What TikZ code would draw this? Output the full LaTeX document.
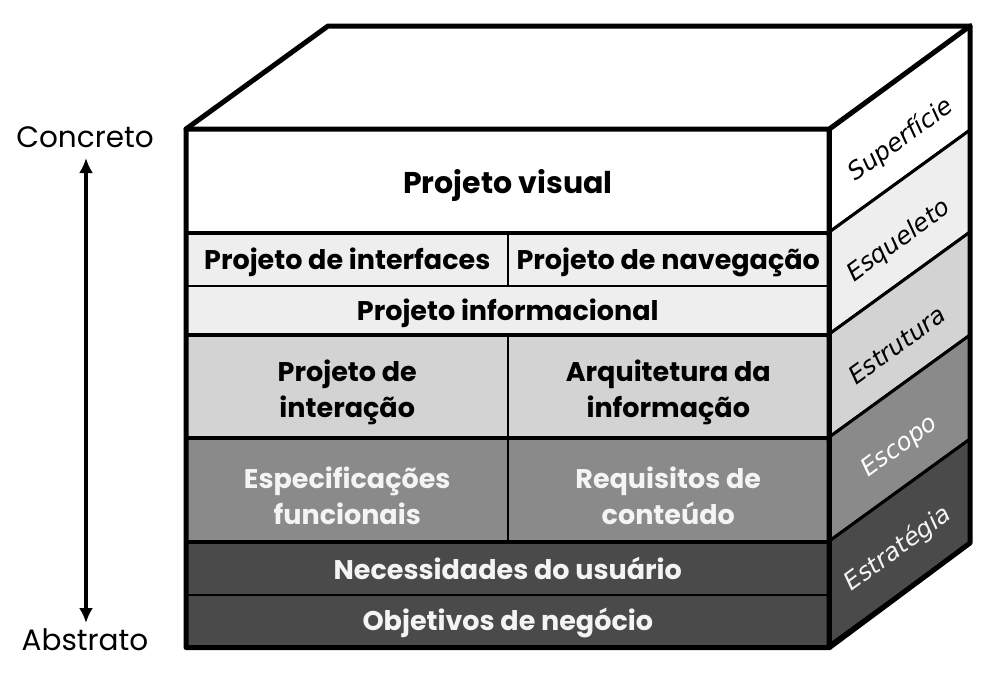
\documentclass[tikz,border=0pt]{standalone}
\usepackage{fontspec}
\setmainfont{Poppins}
\newfontfamily\sidefont{DejaVu Sans}
\usetikzlibrary{arrows.meta}
\definecolor{clight}{HTML}{EEEEEE}
\definecolor{cmid}{HTML}{D3D3D3}
\definecolor{cgray}{HTML}{8A8A8A}
\definecolor{cdark}{HTML}{4A4A4A}
\definecolor{ctxtw}{HTML}{F4F4F4}
\tikzset{
  cell/.style={draw=black, line width=1.5pt, anchor=north west, inner sep=0pt,
    align=center, font=\bfseries\fontsize{27}{35}\selectfont, text=black,
    execute at begin node={\rule{0pt}{27pt}},
    execute at end node={\rule[-6pt]{0pt}{0pt}}},
  celltext/.style={inner sep=0pt, align=center, font=\bfseries\fontsize{27}{36}\selectfont, text=black},
  wide/.style={cell, minimum width=642pt},
  half/.style={cell, minimum width=321pt},
  sidelabel/.style={rotate=36, font=\sidefont\itshape\fontsize{24.5}{28}\selectfont, inner sep=0pt},
  sep/.style={line width=4pt},
  outline/.style={line width=5pt, line join=round, line cap=round},
  endlabel/.style={font=\fontsize{29.5}{32}\selectfont, inner sep=0pt}
}
\begin{document}
\begin{tikzpicture}[x=1pt, y=-1pt]
\useasboundingbox (0,0) rectangle (998,675);
% top face
\fill[white] (186,129) -- (328,26) -- (970,26) -- (828,129) -- cycle;
% front cells
\node[wide, fill=white, minimum height=104pt, font=\bfseries\fontsize{30}{36}\selectfont,
  execute at begin node={\rule{0pt}{31pt}}] (visual) at (186,129) {Projeto visual};
\node[half, fill=clight, minimum height=52pt] (interf) at (186,233) {Projeto de interfaces};
\node[half, fill=clight, minimum height=52pt] (naveg) at (507,233) {Projeto de navegação};
\node[wide, fill=clight, minimum height=50pt] (inform) at (186,285) {Projeto informacional};
\node[half, fill=cmid, minimum height=103pt] (interac) at (186,335) {};
\node[half, fill=cmid, minimum height=103pt] (arquit) at (507,335) {};
\node[half, fill=cgray, minimum height=104pt] (espec) at (186,438) {};
\node[half, fill=cgray, minimum height=104pt] (requis) at (507,438) {};
\node[celltext] (interacT) at ([yshift=-5pt]interac.center) {Projeto de\\interação};
\node[celltext] (arquitT) at ([yshift=-5pt]arquit.center) {Arquitetura da\\informação};
\node[celltext, text=ctxtw] (especT) at ([yshift=-5pt]espec.center) {Especificações\\funcionais};
\node[celltext, text=ctxtw] (requisT) at ([yshift=-5pt]requis.center) {Requisitos de\\conteúdo};
\node[wide, fill=cdark, minimum height=52pt, text=ctxtw] (necess) at (186,542) {Necessidades do usuário};
\node[wide, fill=cdark, minimum height=52pt, text=ctxtw] (objet) at (186,594) {Objetivos de negócio};
% side face bands
\filldraw[fill=white, line width=3pt] (828,129) -- (970,26) -- (970,130) -- (828,233) -- cycle;
\filldraw[fill=clight, line width=3pt] (828,233) -- (970,130) -- (970,232) -- (828,335) -- cycle;
\filldraw[fill=cmid, line width=3pt] (828,335) -- (970,232) -- (970,335) -- (828,438) -- cycle;
\filldraw[fill=cgray, line width=3pt] (828,438) -- (970,335) -- (970,439) -- (828,542) -- cycle;
\filldraw[fill=cdark, line width=3pt] (828,542) -- (970,439) -- (970,543) -- (828,646) -- cycle;
\node[sidelabel] (superf) at (901,140) {Superfície};
\node[sidelabel] (esquel) at (899,241) {Esqueleto};
\node[sidelabel] (estrut) at (897,345) {Estrutura};
\node[sidelabel, text=white] (escopo) at (900,447) {Escopo};
\node[sidelabel, text=ctxtw] (estrat) at (898,549) {Estratégia};
% group separators on front
\draw[sep] (interf.north west) -- (naveg.north east);
\draw[sep] (interac.north west) -- (arquit.north east);
\draw[sep] (espec.north west) -- (requis.north east);
\draw[sep] (necess.north west) -- (necess.north east);
% outline
\draw[outline] (visual.north west) -- (328,26) -- (970,26) -- (970,543) -- (objet.south east) -- (objet.south west) -- cycle;
\draw[outline] (visual.north west) -- (visual.north east) -- (970,26);
\draw[outline] (visual.north east) -- (objet.south east);
% left labels and arrow
\node[endlabel] (concreto) at (85,137) {Concreto};
\node[endlabel] (abstrato) at (85,640) {Abstrato};
\coordinate (arrtop) at (86,158);
\coordinate (arrbot) at (86,623);
\draw[line width=3.5pt, {Latex[length=15pt,width=14pt]}-{Latex[length=15pt,width=14pt]}] (arrtop) -- (arrbot);
\end{tikzpicture}
\end{document}
